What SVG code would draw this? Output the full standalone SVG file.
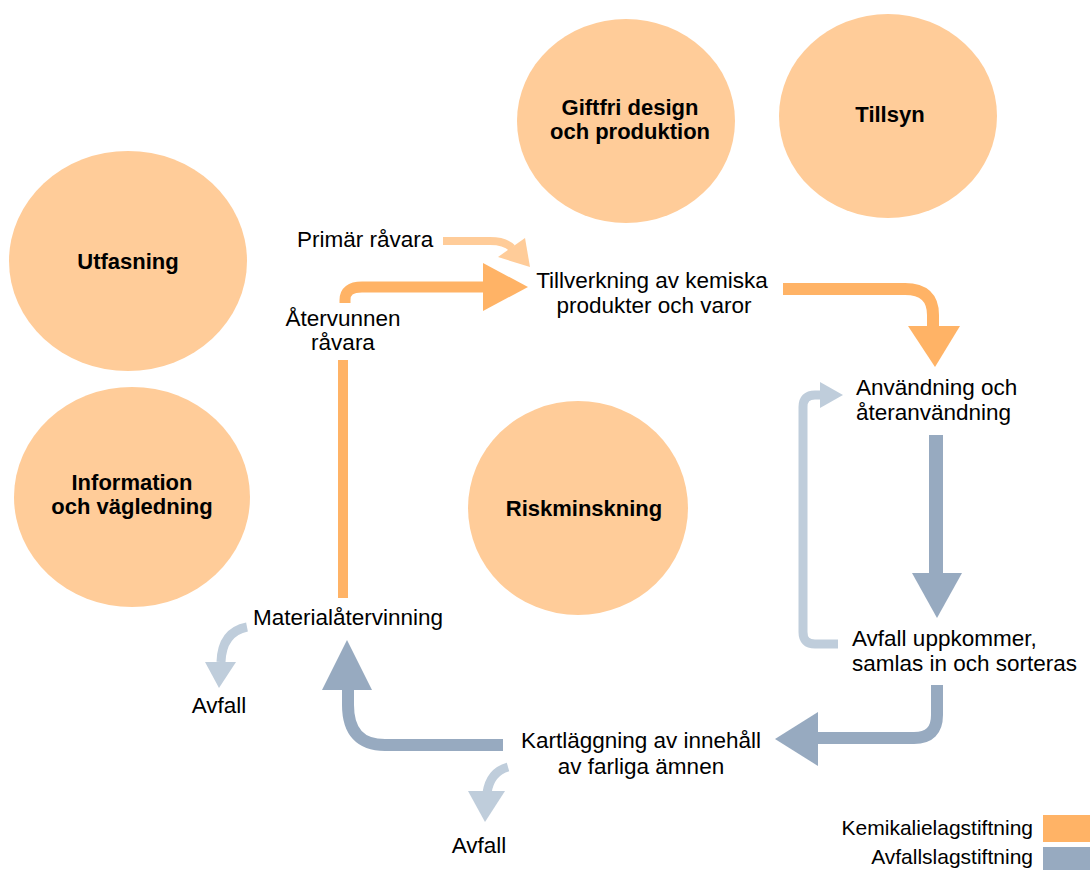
<svg xmlns="http://www.w3.org/2000/svg" width="1090" height="870" viewBox="0 0 1090 870">
<style>
.c{fill:#FFCC99}
.b{font-family:"Liberation Sans",Arial,sans-serif;font-weight:bold;font-size:22px;fill:#000;text-anchor:middle}
.t{font-family:"Liberation Sans",Arial,sans-serif;font-size:22.5px;fill:#000}
.lg{font-family:"Liberation Sans",Arial,sans-serif;font-size:21px;fill:#000;text-anchor:end}
.m{text-anchor:middle}
.or{fill:none;stroke:#FFB366}
.lo{fill:none;stroke:#FFCC99}
.bl{fill:none;stroke:#97AAC0}
.lb{fill:none;stroke:#BFCDDB}
</style>
<rect width="1090" height="870" fill="#fff"/>
<g id="giftfri"><ellipse class="c" cx="626" cy="121" rx="109" ry="102"/><text class="b" x="630" y="115">Giftfri design</text><text class="b" x="630" y="139">och produktion</text></g>
<g id="tillsyn"><ellipse class="c" cx="888" cy="116" rx="109" ry="102"/><text class="b" x="890" y="122">Tillsyn</text></g>
<g id="utfasning"><ellipse class="c" cx="128" cy="261" rx="119" ry="110"/><text class="b" x="128" y="269">Utfasning</text></g>
<g id="information"><ellipse class="c" cx="132" cy="497" rx="118" ry="110"/><text class="b" x="132" y="490">Information</text><text class="b" x="132" y="514">och vägledning</text></g>
<g id="riskminskning"><ellipse class="c" cx="578" cy="508" rx="110" ry="107"/><text class="b" x="584" y="516">Riskminskning</text></g>
<g id="connectors">
<path class="lo" stroke-width="8" d="M443,241 L490,241 Q505,241 512,248"/>
<polygon fill="#FFCC99" points="525,238 498,257 530,267"/>
<path class="or" stroke-width="11" d="M345,303 L345,300 Q345,287 362,287 L486,287"/>
<polygon fill="#FFB366" points="483,263 483,311 528,287"/>
<rect x="338" y="360" width="10" height="238" fill="#FFB366"/>
<path class="or" stroke-width="12" d="M783,289 L905,289 Q933,289 933,315 L933,328"/>
<polygon fill="#FFB366" points="908,326 960,326 935,367"/>
<path class="bl" stroke-width="14" d="M936,435 L936,575"/>
<polygon fill="#97AAC0" points="912,573 962,573 937,618"/>
<path class="lb" stroke-width="9" d="M838,644 L815,644 Q803,644 803,632 L803,407 Q803,395 815,395 L822,395"/>
<polygon fill="#BFCDDB" points="820,382 820,408 843,395"/>
<path class="bl" stroke-width="12" d="M937,685 L937,715 Q937,738 914,738 L818,738"/>
<polygon fill="#97AAC0" points="818,712 818,766 775,739"/>
<path class="bl" stroke-width="12" d="M503,745 L385,745 Q348,745 348,705 L348,688"/>
<polygon fill="#97AAC0" points="322,690 372,690 347,640"/>
<path class="lb" stroke-width="9" d="M247,627 Q222,632 221,662"/>
<polygon fill="#BFCDDB" points="205,662 236,662 219,688"/>
<path class="lb" stroke-width="9" d="M508,767 Q490,772 487,793"/>
<polygon fill="#BFCDDB" points="468,791 505,791 485,822"/>
</g>
<g id="labels">
<text class="t" x="297" y="247">Primär råvara</text>
<text class="t m" x="652" y="288">Tillverkning av kemiska</text>
<text class="t m" x="654" y="313">produkter och varor</text>
<text class="t m" x="343" y="326">Återvunnen</text>
<text class="t m" x="343" y="350">råvara</text>
<text class="t" x="856" y="395">Användning och</text>
<text class="t" x="856" y="420">återanvändning</text>
<text class="t" x="852" y="646">Avfall uppkommer,</text>
<text class="t" x="852" y="671">samlas in och sorteras</text>
<text class="t m" x="348" y="625">Materialåtervinning</text>
<text class="t m" x="219" y="713">Avfall</text>
<text class="t m" x="641" y="748">Kartläggning av innehåll</text>
<text class="t m" x="641" y="774">av farliga ämnen</text>
<text class="t m" x="479" y="853">Avfall</text>
</g>
<g id="legend">
<text class="lg" x="1033" y="835">Kemikalielagstiftning</text>
<rect x="1043" y="815" width="47" height="27" fill="#FFB366"/>
<text class="lg" x="1033" y="864">Avfallslagstiftning</text>
<rect x="1043" y="847" width="47" height="23" fill="#97AAC0"/>
</g>
</svg>
